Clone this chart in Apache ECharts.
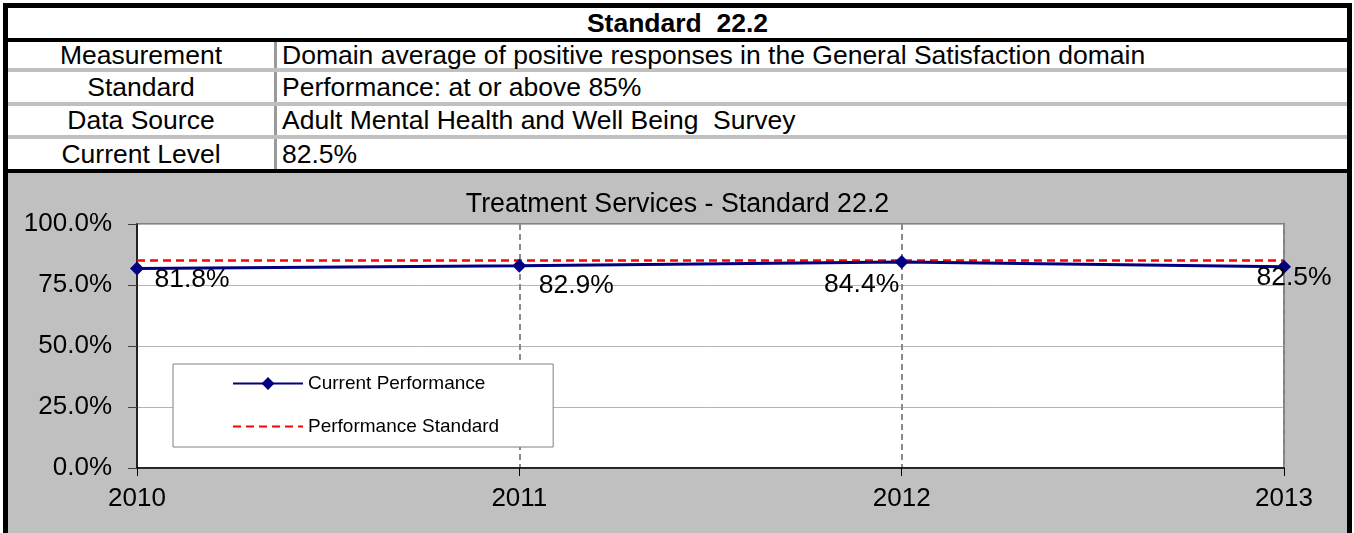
<!DOCTYPE html>
<html>
<head>
<meta charset="utf-8">
<script src="https://cdn.jsdelivr.net/npm/echarts/dist/echarts.min.js"></script>
<style>
  body { margin: 0; background: #fff; font-family: "Liberation Sans", Arial, sans-serif; }
  .abs { position: absolute; white-space: pre; }
  .frame { left: 3px; top: 3px; width: 1349px; height: 540px; background: #000; }
  .title-cell { left: 8px; top: 8px; width: 1339px; height: 30px; background: #fff;
    font-weight: bold; font-size: 26.5px; line-height: 30px; text-align: center; }
  .rows { left: 8px; top: 42px; width: 1339px; height: 127px; background: #c0c0c0; }
  .lbl { left: 8px; width: 266px; background: #fff; font-size: 26.5px; text-align: center; }
  .sep { left: 274px; width: 3px; background: #9a9a9a; }
  .val { left: 277px; width: 1065px; padding-left: 5px; background: #fff; font-size: 26.5px; }
  .chart { left: 8px; top: 173px; width: 1339px; height: 360px; background: #c0c0c0; }
</style>
</head>
<body>
<div class="abs frame"></div>
<div class="abs title-cell" id="tableTitle"></div>
<div class="abs rows"></div>
<div id="table"></div>
<div class="abs chart" id="chart"></div>

<script>
// table text
const tableTitle = 'Standard  22.2';
const rowLabels = ['Measurement', 'Standard', 'Data Source', 'Current Level'];
const rowValues = [
  'Domain average of positive responses in the General Satisfaction domain',
  'Performance: at or above 85%',
  'Adult Mental Health and Well Being  Survey',
  '82.5%'
];

// chart data
const years = ['2010', '2011', '2012', '2013'];
const currentPerformance = [81.8, 82.9, 84.4, 82.5];
const performanceStandard = [85, 85, 85, 85];

// where each value label sits relative to its point (style only)
const labelOffsets = [[55, 11], [57, 20], [-40, 23], [10, 11]];

/* build the table rows */
const rowBoxes = [[42, 26], [72, 30], [106, 29], [139, 30]];
document.getElementById('tableTitle').textContent = tableTitle;
let html = '';
rowLabels.forEach((label, i) => {
  let top = rowBoxes[i][0], h = rowBoxes[i][1];
  let pos = `top:${top}px;height:${h}px;line-height:${h}px;`;
  html += `<div class="abs lbl" style="${pos}">${label}</div>`;
  html += `<div class="abs sep" style="top:${top}px;height:${h}px"></div>`;
  html += `<div class="abs val" style="${pos}">${rowValues[i]}</div>`;
});
document.getElementById('table').innerHTML = html;

let myChart = echarts.init(document.getElementById('chart'));
let font = '"Liberation Sans", Arial, sans-serif';

let option = {
  textStyle: { fontFamily: font },
  title: {
    text: 'Treatment Services - Standard 22.2',
    left: 'center',
    top: 18,
    padding: 0,
    textStyle: { fontSize: 26.8, fontWeight: 'normal', color: '#000', fontFamily: font }
  },
  legend: {
    orient: 'vertical',
    left: 165,
    top: 191,
    padding: [10, 54, 11, 59],
    itemGap: 24,
    itemWidth: 70,
    itemHeight: 16,
    backgroundColor: '#fff',
    borderColor: '#808080',
    borderWidth: 1,
    borderRadius: 0,
    textStyle: { fontSize: 19, color: '#000', fontFamily: font },
    data: [
      'Current Performance',
      // the standard line has no marker, so hide the legend marker too
      { name: 'Performance Standard', itemStyle: { opacity: 0 } }
    ]
  },
  grid: {
    left: 129,
    right: 63,
    top: 51,
    bottom: 65,
    show: true,
    backgroundColor: '#fff',
    borderColor: '#808080',
    borderWidth: 2
  },
  xAxis: {
    type: 'category',
    boundaryGap: false,
    data: years,
    axisLine: { show: true, lineStyle: { color: '#000', width: 1.5 } },
    axisTick: { show: true, inside: false, length: 8, lineStyle: { color: '#000' } },
    axisLabel: { fontSize: 26, color: '#000', margin: 18, fontFamily: font },
    splitLine: {
      show: true,
      lineStyle: { type: [6, 4], color: '#8a8a8a', width: 2 }
    }
  },
  yAxis: {
    type: 'value',
    min: 0,
    max: 100,
    interval: 25,
    axisLine: { show: true, lineStyle: { color: '#000', width: 1.5 } },
    axisTick: { show: true, inside: false, length: 9, lineStyle: { color: '#404040' } },
    axisLabel: {
      fontSize: 26,
      color: '#000',
      margin: 25,
      fontFamily: font,
      formatter: v => v.toFixed(1) + '%'
    },
    splitLine: { show: true, lineStyle: { color: '#b4b4b4', width: 1 } }
  },
  series: [
    {
      name: 'Performance Standard',
      type: 'line',
      data: performanceStandard,
      symbol: 'none',
      lineStyle: { color: '#ff0000', width: 2.5, type: [8, 5] },
      itemStyle: { color: '#ff0000' },
      z: 3
    },
    {
      name: 'Current Performance',
      type: 'line',
      symbol: 'diamond',
      symbolSize: 14,
      lineStyle: { color: '#000080', width: 3 },
      itemStyle: { color: '#000080' },
      label: {
        show: true,
        position: 'inside',
        fontSize: 26.5,
        color: '#000',
        fontFamily: font,
        formatter: p => p.value.toFixed(1) + '%'
      },
      data: currentPerformance.map((v, i) => ({
        value: v,
        label: { offset: labelOffsets[i] }
      })),
      z: 4
    }
  ]
};

myChart.setOption(option);
</script>
</body>
</html>
